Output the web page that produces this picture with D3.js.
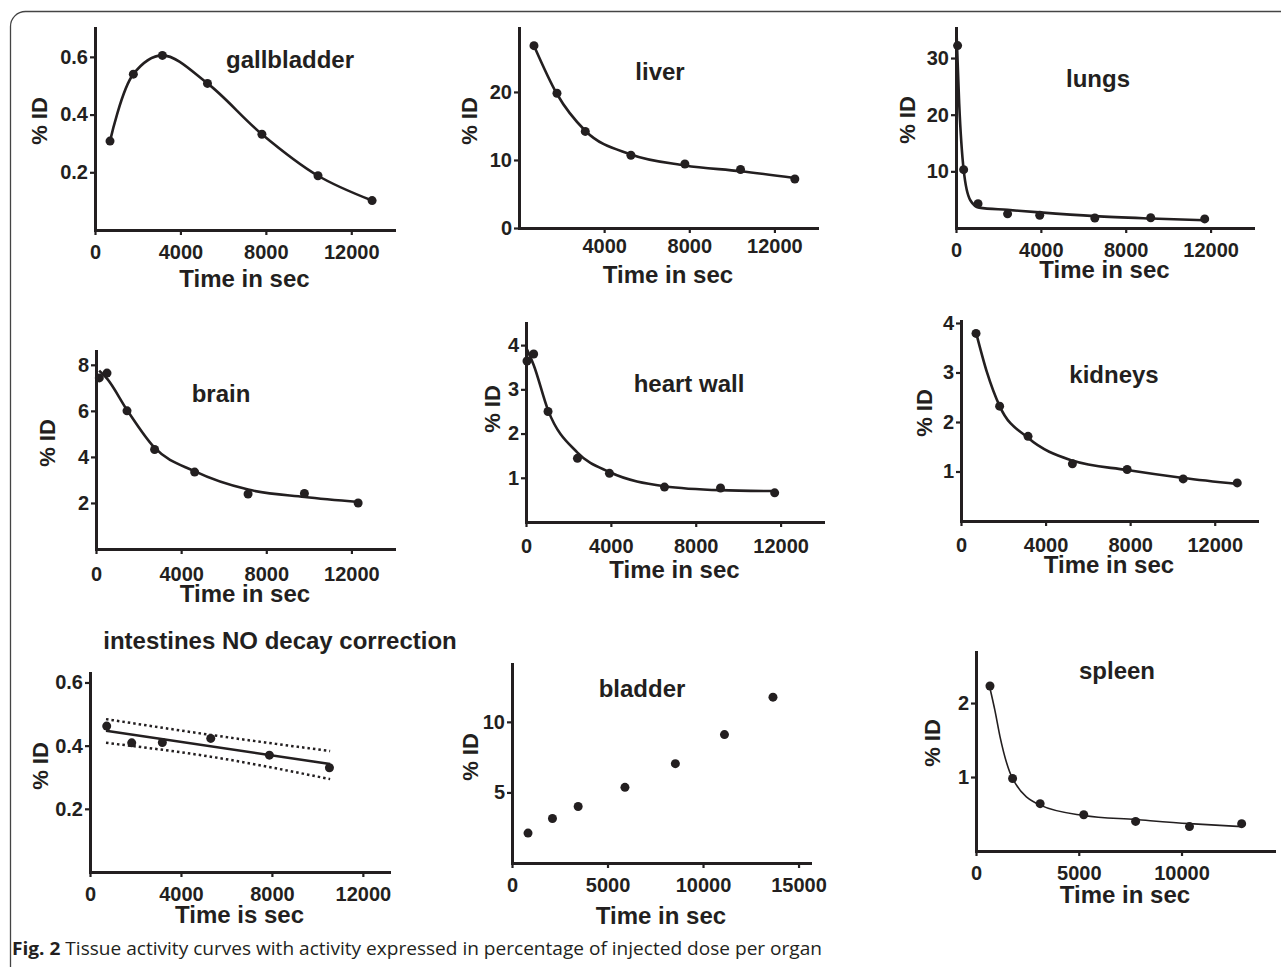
<!DOCTYPE html>
<html>
<head>
<meta charset="utf-8">
<script src="https://cdn.jsdelivr.net/npm/d3@7"></script>
<style>
  body { margin: 0; background: #fff; }
  svg text { font-family: "Liberation Sans", Arial, sans-serif; fill: #231f20; }
  text.caption { font-family: "Open Sans", "Noto Sans", sans-serif; }
</style>
</head>
<body>
<svg id="fig" width="1281" height="967"></svg>
<script>
/* DATA (time in sec, % ID) */
var gallbladderT = [703, 1796, 3156, 5266, 7815, 10441, 12975];
var gallbladderV = [0.308, 0.54, 0.605, 0.508, 0.332, 0.188, 0.102];

var liverT = [704, 1784, 3113, 5258, 7793, 10408, 12958];
var liverV = [26.8, 19.8, 14.2, 10.7, 9.4, 8.6, 7.2];
var liverFit = [[704, 26.8], [1784, 19.7], [3113, 14.3], [5258, 10.8], [7793, 9.2], [10408, 8.35], [12958, 7.35]];

var lungsT = [76, 360, 1039, 2432, 3947, 6544, 9178, 11723];
var lungsV = [32.2, 10.3, 4.3, 2.5, 2.25, 1.77, 1.8, 1.6];
var lungsFit = [[20, 35], [150, 22], [360, 10.3], [675, 4.9], [1090, 3.6], [2430, 3.2], [3950, 2.75], [6550, 2.1], [9180, 1.68], [11720, 1.36]];

var brainT = [155, 517, 1457, 2754, 4635, 7144, 9791, 12315];
var brainV = [7.43, 7.64, 6.0, 4.32, 3.34, 2.39, 2.41, 2.0];
var brainFit = [[150, 7.75], [520, 7.4], [1450, 6.05], [2750, 4.4], [4650, 3.37], [7150, 2.58], [9800, 2.26], [12350, 2.04]];

var heartT = [47, 361, 1038, 2425, 3934, 6528, 9170, 11722];
var heartV = [3.64, 3.80, 2.50, 1.44, 1.10, 0.79, 0.77, 0.66];
var heartFit = [[0, 3.95], [361, 3.55], [1038, 2.53], [2425, 1.57], [3934, 1.13], [6528, 0.81], [9170, 0.72], [11722, 0.7]];

var kidneysT = [710, 1827, 3171, 5269, 7858, 10509, 13065];
var kidneysV = [3.79, 2.32, 1.71, 1.155, 1.04, 0.85, 0.77];
var kidneysFit = [[710, 3.81], [1230, 3.0], [1827, 2.32], [3171, 1.68], [5269, 1.22], [7858, 1.03], [10509, 0.87], [13065, 0.75]];

var intestinesT = [735, 1835, 3183, 5311, 7890, 10530];
var intestinesV = [0.462, 0.409, 0.41, 0.423, 0.370, 0.330];
var intestinesFit = [[704, 0.447], [10561, 0.342]];
var intestinesUpper = [[704, 0.484], [5311, 0.434], [10561, 0.383]];
var intestinesLower = [[704, 0.409], [5311, 0.365], [10561, 0.294]];

var bladderT = [839, 2118, 3463, 5913, 8552, 11123, 13662];
var bladderV = [2.12, 3.15, 4.0, 5.36, 7.04, 9.10, 11.75];

var spleenT = [680, 1780, 3121, 5243, 7767, 10388, 12927];
var spleenV = [2.23, 0.98, 0.64, 0.49, 0.40, 0.33, 0.37];
var spleenFit = [[680, 2.2], [920, 1.9], [1165, 1.55], [1780, 0.98], [3121, 0.62], [5243, 0.48], [7767, 0.425], [10388, 0.37], [12927, 0.33]];

/* TICK LABELS */
var ticks12k = [0, 4000, 8000, 12000];
var ticks12kNoZero = [4000, 8000, 12000];
var ticks15k = [0, 5000, 10000, 15000];
var ticks10k = [0, 5000, 10000];

var zip = function(t, v){ return t.map(function(d, i){ return [d, v[i]]; }); };

/* PANELS: positions only */
var panels = [
  {title: "gallbladder", xt: "Time in sec", pts: zip(gallbladderT, gallbladderV), fit: zip(gallbladderT, gallbladderV), curve: d3.curveCatmullRom,
   x0: 95, x1: 394, yTop: 28, yBot: 230, xMax: 14000, yMax: 0.7, xTicks: ticks12k, yTicks: [0.2, 0.4, 0.6], fmt: d3.format(".1f"),
   tickOff: 29, xTitleY: 287, yLabX: 47, yLabY: 121, titleX: 290, titleY: 68},
  {title: "liver", xt: "Time in sec", pts: zip(liverT, liverV), fit: liverFit,
   x0: 519, x1: 817, yTop: 28, yBot: 228, xMax: 14000, yMax: 29.4, xTicks: ticks12kNoZero, yTicks: [0, 10, 20],
   tickOff: 25, xTitleY: 283, yLabX: 477, yLabY: 121, titleX: 660, titleY: 80},
  {title: "lungs", xt: "Time in sec", pts: zip(lungsT, lungsV), fit: lungsFit,
   x0: 956, x1: 1253, yTop: 28, yBot: 228, xMax: 14000, yMax: 35.3, xTicks: ticks12k, yTicks: [10, 20, 30],
   tickOff: 29, xTitleY: 278, yLabX: 915, yLabY: 120, titleX: 1098, titleY: 87},
  {title: "brain", xt: "Time in sec", pts: zip(brainT, brainV), fit: brainFit,
   x0: 96, x1: 394, yTop: 351, yBot: 549, xMax: 14000, yMax: 8.6, xTicks: ticks12k, yTicks: [2, 4, 6, 8],
   tickOff: 32, xTitleY: 602, yLabX: 55, yLabY: 443, titleX: 221, titleY: 402},
  {title: "heart wall", xt: "Time in sec", pts: zip(heartT, heartV), fit: heartFit,
   x0: 526, x1: 823, yTop: 323, yBot: 522, xMax: 14000, yMax: 4.5, xTicks: ticks12k, yTicks: [1, 2, 3, 4],
   tickOff: 31, xTitleY: 578, yLabX: 500, yLabY: 409, titleX: 689, titleY: 392},
  {title: "kidneys", xt: "Time in sec", pts: zip(kidneysT, kidneysV), fit: kidneysFit,
   x0: 961, x1: 1257, yTop: 321, yBot: 521, xMax: 14000, yMax: 4.04, xTicks: ticks12k, yTicks: [1, 2, 3, 4],
   tickOff: 31, xTitleY: 573, yLabX: 932, yLabY: 413, titleX: 1114, titleY: 383},
  {title: "intestines NO decay correction", xt: "Time is sec", pts: zip(intestinesT, intestinesV), fit: intestinesFit, curve: d3.curveLinear,
   bands: [intestinesUpper, intestinesLower],
   x0: 90, x1: 389, yTop: 673, yBot: 872, xMax: 13150, yMax: 0.63, xTicks: ticks12k, yTicks: [0.2, 0.4, 0.6], fmt: d3.format(".1f"),
   tickOff: 29, xTitleY: 923, yLabX: 48, yLabY: 766, titleX: 280, titleY: 649},
  {title: "bladder", xt: "Time in sec", pts: zip(bladderT, bladderV), fit: null,
   x0: 512, x1: 810, yTop: 664, yBot: 863, xMax: 15600, yMax: 14.1, xTicks: ticks15k, yTicks: [5, 10],
   tickOff: 29, xTitleY: 924, yLabX: 478, yLabY: 757, titleX: 642, titleY: 697},
  {title: "spleen", xt: "Time in sec", pts: zip(spleenT, spleenV), fit: spleenFit, lineW: 1.6,
   x0: 976, x1: 1274, yTop: 652, yBot: 851, xMax: 14500, yMax: 2.69, xTicks: ticks10k, yTicks: [1, 2],
   tickOff: 29, xTitleY: 903, yLabX: 940, yLabY: 743, titleX: 1117, titleY: 679}
];

var svg = d3.select('#fig');
var ink = "#231f20";

/* FRAME */
svg.append("rect")
  .attr("x", 10.5).attr("y", 11.5)
  .attr("width", 1320).attr("height", 1000)
  .attr("rx", 15).attr("ry", 15)
  .attr("fill", "none").attr("stroke", "#444").attr("stroke-width", 1.3);

panels.forEach(function(p){
  var x = d3.scaleLinear().domain([0, p.xMax]).range([p.x0, p.x1]);
  var y = d3.scaleLinear().domain([0, p.yMax]).range([p.yBot, p.yTop]);
  var g = svg.append("g");

  var xa = g.append("g").attr("transform", "translate(0," + p.yBot + ")")
    .call(d3.axisBottom(x).tickValues(p.xTicks).tickSize(5).tickSizeOuter(0).tickFormat(d3.format("d")));
  xa.selectAll("text").attr("dy", null).attr("y", p.tickOff);

  g.append("g").attr("transform", "translate(" + p.x0 + ",0)")
    .call(d3.axisLeft(y).tickValues(p.yTicks).tickSize(5).tickSizeOuter(0).tickPadding(2).tickFormat(p.fmt || d3.format("d")));

  g.selectAll(".domain").attr("stroke", ink).attr("stroke-width", 3).attr("stroke-linecap", "square");
  g.selectAll(".tick line").attr("stroke", ink).attr("stroke-width", 2.2);
  g.selectAll(".tick text").attr("font-size", 20).attr("font-weight", "bold").attr("fill", ink)
    .style("font-family", '"Liberation Sans", Arial, sans-serif');

  // fitted curve
  if (p.fit) {
    var line = d3.line().x(function(d){ return x(d[0]); }).y(function(d){ return y(d[1]); })
      .curve(p.curve || d3.curveMonotoneX);
    g.append("path").attr("d", line(p.fit))
      .attr("fill", "none").attr("stroke", ink).attr("stroke-width", p.lineW || 2.6);
    if (p.bands) {
      var bl = d3.line().x(function(d){ return x(d[0]); }).y(function(d){ return y(d[1]); }).curve(d3.curveMonotoneX);
      p.bands.forEach(function(b){
        g.append("path").attr("d", bl(b))
          .attr("fill", "none").attr("stroke", ink).attr("stroke-width", 2.5)
          .attr("stroke-dasharray", "2.5,3");
      });
    }
  }

  g.selectAll("circle.pt").data(p.pts).enter().append("circle")
    .attr("class", "pt")
    .attr("cx", function(d){ return x(d[0]); })
    .attr("cy", function(d){ return y(d[1]); })
    .attr("r", 4.5).attr("fill", ink);

  g.append("text").text(p.title)
    .attr("x", p.titleX).attr("y", p.titleY)
    .attr("text-anchor", "middle").attr("font-size", 24).attr("font-weight", "bold");

  g.append("text").text(p.xt)
    .attr("x", (p.x0 + p.x1) / 2).attr("y", p.xTitleY)
    .attr("text-anchor", "middle").attr("font-size", 24).attr("font-weight", "bold");

  g.append("text").text("% ID")
    .attr("transform", "translate(" + p.yLabX + "," + p.yLabY + ") rotate(-90)")
    .attr("text-anchor", "middle").attr("font-size", 22).attr("font-weight", "bold");
});

/* CAPTION */
var cap = svg.append("text").attr("class", "caption")
  .attr("x", 12).attr("y", 955).attr("font-size", 18)
  .attr("textLength", 810).attr("lengthAdjust", "spacingAndGlyphs");
cap.append("tspan").attr("font-weight", "bold").text("Fig. 2");
cap.append("tspan").text(" Tissue activity curves with activity expressed in percentage of injected dose per organ");
</script>
</body>
</html>
